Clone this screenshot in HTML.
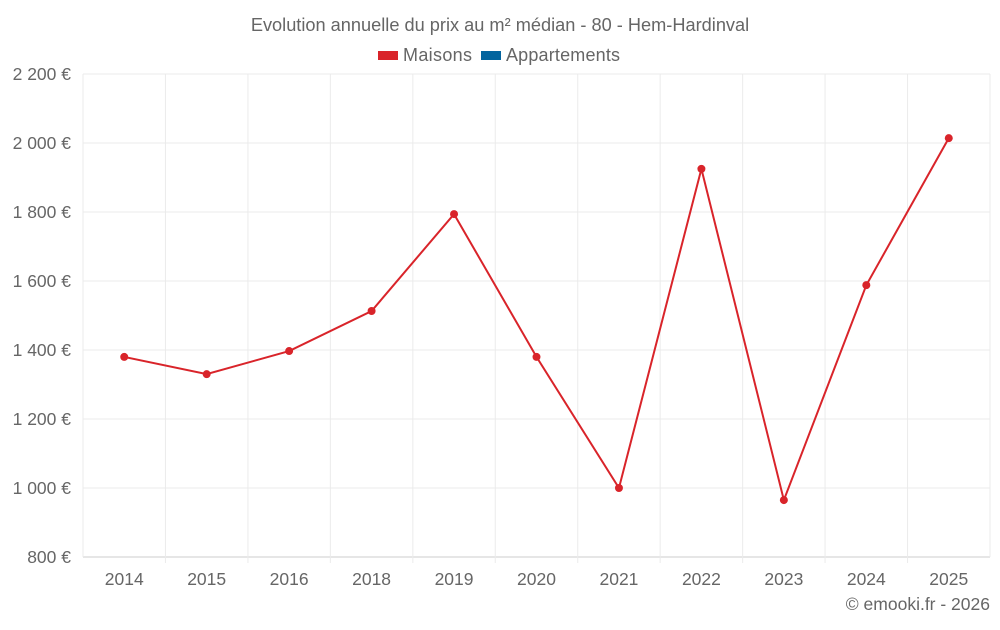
<!DOCTYPE html>
<html><head><meta charset="utf-8"><style>
body{margin:0;background:#fff;font-family:"Liberation Sans",sans-serif;}
svg text{font-family:"Liberation Sans",sans-serif;fill:#666;}
</style></head><body>
<svg width="1000" height="625" viewBox="0 0 1000 625">
<text x="500" y="31" text-anchor="middle" font-size="18.2">Evolution annuelle du prix au m² médian - 80 - Hem-Hardinval</text>
<g>
<g><rect x="378" y="51" width="20" height="9" fill="#d9242a"/><text x="403" y="61" font-size="18" textLength="69">Maisons</text></g>
<g><rect x="481" y="51" width="20" height="9" fill="#03649e"/><text x="506" y="61" font-size="18" textLength="114">Appartements</text></g>
</g>
<g id="grid"></g>
<g id="yaxis"></g>
<g id="xaxis"></g>
<g id="series"></g>
<text x="990" y="610" text-anchor="end" font-size="17.5">© emooki.fr - 2026</text>
</svg>
<script>
const categories=["2014","2015","2016","2018","2019","2020","2021","2022","2023","2024","2025"];
const maisons=[1380,1330,1397,1513,1794,1380,1000,1925,965,1588,2014];
const yTicks=[800,1000,1200,1400,1600,1800,2000,2200];
const NS="http://www.w3.org/2000/svg";
const L=83,R=990,T=74,B=557,yMin=800,yMax=2200;
const y=v=>B-(v-yMin)/(yMax-yMin)*(B-T);
const bw=(R-L)/categories.length;
const x=i=>L+bw*(i+0.5);
function mk(tag,attrs,parent){const e=document.createElementNS(NS,tag);for(const k in attrs)e.setAttribute(k,attrs[k]);parent.appendChild(e);return e;}
const grid=document.getElementById('grid'),ya=document.getElementById('yaxis'),xa=document.getElementById('xaxis'),se=document.getElementById('series');
yTicks.forEach(v=>{
 const l=mk('line',{x1:L,x2:R,y1:y(v),y2:y(v),stroke:v===yMin?'#ccc':'#ebebeb','stroke-width':1},grid);
 
 
 const t=mk('text',{x:71,y:y(v)+6,'text-anchor':'end','font-size':17.5},ya);
 t.textContent=String(v).replace(/\B(?=(\d{3})+(?!\d))/g,' ')+' €';
 
 
});
for(let i=0;i<=categories.length;i++){
 const gx=L+bw*i;
 const l=mk('line',{x1:gx,x2:gx,y1:T,y2:B+(i===0||i===categories.length?0:6),stroke:'#ebebeb','stroke-width':1},grid);
 
 
}
categories.forEach((c,i)=>{
 const t=mk('text',{x:x(i),y:585,'text-anchor':'middle','font-size':17.5},xa);
 t.textContent=c;
 
 
});
const p=mk('polyline',{points:maisons.map((v,i)=>x(i)+','+y(v)).join(' '),fill:'none',stroke:'#d9242a','stroke-width':2},se);


maisons.forEach((v,i)=>{
 const c=mk('circle',{cx:x(i),cy:y(v),r:4,fill:'#d9242a'},se);
 
 
});
</script>
</body></html>
